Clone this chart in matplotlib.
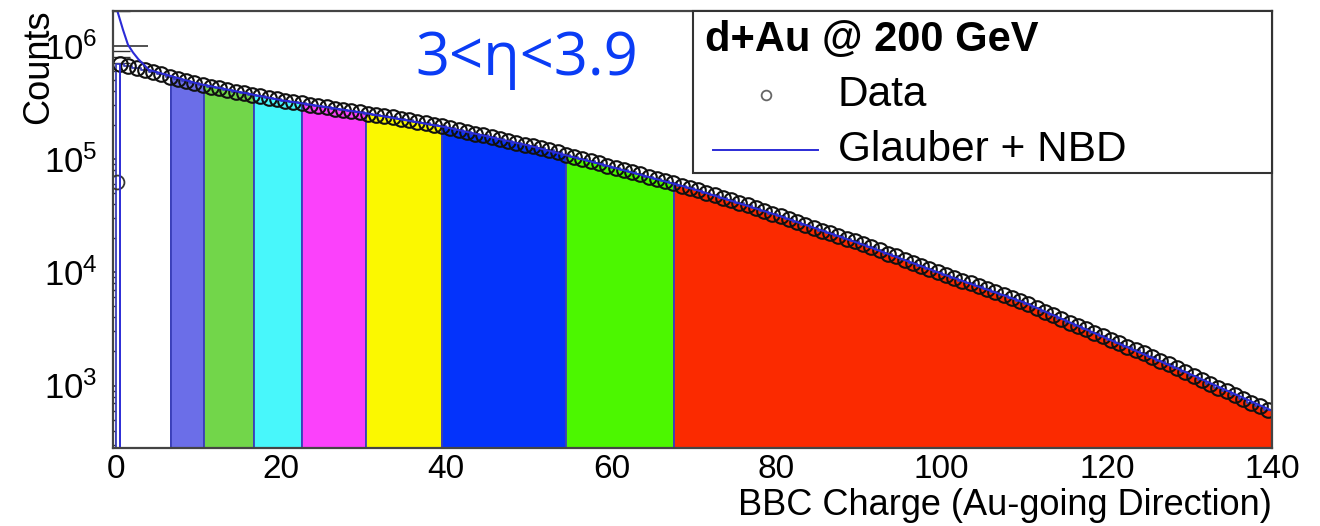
import numpy as np
import matplotlib.pyplot as plt
from matplotlib.patches import Rectangle
from matplotlib.lines import Line2D
from matplotlib.ticker import FixedLocator, NullFormatter

# ------------------------------------------------------------
# Style
# ------------------------------------------------------------

plt.rcParams.update({
    "font.family": ["Liberation Sans", "DejaVu Sans"],
    "mathtext.default": "regular",
})

# ------------------------------------------------------------
# Data
# ------------------------------------------------------------

# BBC charge histogram, 1 unit wide bins starting at 0
BIN_WIDTH = 1.0
COUNTS = [
    692000, 662000, 634000, 607000, 581000, 557000, 533000, 511000, 489000, 468000,
    449000, 434000, 419000, 405000, 391000, 379000, 368000, 357000, 346000, 336000,
    327000, 318000, 309000, 301000, 292000, 285000, 278000, 271000, 264000, 257000,
    251000, 245000, 238000, 233000, 227000, 220000, 213000, 207000, 200000, 194000,
    187000, 180000, 174000, 167000, 161000, 156000, 150000, 144500, 139000, 134000,
    129000, 124000, 119000, 114000, 109000, 104700, 100000, 95500, 91200, 87100,
    83300, 79700, 76300, 73000, 69900, 66800, 63800, 61000, 58200, 55600,
    53000, 50400, 47900, 45500, 43300, 41000, 38800, 36700, 34800, 32900,
    31100, 29300, 27700, 26200, 24700, 23300, 22100, 20900, 19800, 18700,
    17600, 16600, 15600, 14600, 13800, 12900, 12100, 11400, 10700, 10100,
    9480, 8950, 8450, 7980, 7530, 7100, 6680, 6300, 5940, 5600,
    5230, 4850, 4490, 4170, 3860, 3590, 3350, 3130, 2920, 2720,
    2540, 2370, 2210, 2070, 1930, 1790, 1660, 1540, 1430, 1320,
    1220, 1130, 1040, 960, 886, 820, 762, 708, 658, 611,
]

# lone point at zero charge
ZERO_X = 0.1
ZERO_COUNT = 6.2e4

# Glauber + NBD curve
GLAUBER_X = [0.1, 0.85, 1.45, 2.06, 2.7, 4.0, 10, 20, 30, 40, 50,
             60, 70, 80, 90, 100, 110, 120, 130, 140]
GLAUBER_Y = [2.1e6, 1.38e6, 1.02e6, 8.7e5, 7.6e5, 6.1e5, 4.6e5, 3.3e5,
             2.55e5, 1.9e5, 1.31e5, 8.5e4, 5.4e4, 3.2e4, 1.8e4, 9.7e3,
             5.4e3, 2.6e3, 1.27e3, 6.0e2]
GLAUBER_EDGE_X = 0.5
GLAUBER_EDGE_Y = 6.9e5

# centrality classes
BAND_EDGES = [0, 6.66, 10.65, 16.7, 22.5, 30.3, 39.5, 54.5, 67.6, 140]
BAND_COLORS = ["white", "#6b6ee8", "#72d64a", "#48f7fb", "#fb41fb",
               "#fbf800", "#0433fb", "#4cf700", "#fb2a00"]

XTICKS = [0, 20, 40, 60, 80, 100, 120, 140]
YTICKS = [1e3, 1e4, 1e5, 1e6]

YMIN, YMAX = 281, 2.02e6
XMIN, XMAX = -0.36, 140

# ------------------------------------------------------------
# Figure
# ------------------------------------------------------------

fig = plt.figure(figsize=(13.2, 5.26), dpi=100)
ax = fig.add_axes([0.0856, 0.1483, 0.878, 0.8308])

counts = np.array(COUNTS, dtype=float)
centers = (np.arange(len(counts)) + 0.5) * BIN_WIDTH


def bin_value(x):
    k = int(np.clip(np.floor(x / BIN_WIDTH), 0, len(counts) - 1))
    return counts[k]


# coloured bands under the histogram
for lo, hi, col in zip(BAND_EDGES[:-1], BAND_EDGES[1:], BAND_COLORS):
    inner = [e * BIN_WIDTH for e in range(len(counts) + 1)
             if lo < e * BIN_WIDTH < hi]
    xs = [lo] + inner + [hi]
    ys = [bin_value(x) for x in xs[:-1]]
    ys.append(ys[-1])
    ax.fill_between(xs, ys, YMIN, step="post", facecolor=col,
                    edgecolor="#3a3fb8", linewidth=1.3, zorder=1)

# data points
ax.plot(centers, counts, linestyle="none", marker="o", markersize=10.5,
        markerfacecolor="none", markeredgecolor="#111111",
        markeredgewidth=1.5, zorder=3)
ax.plot([ZERO_X], [ZERO_COUNT], linestyle="none", marker="o",
        markersize=10, markerfacecolor="none", markeredgecolor="#333333",
        markeredgewidth=1.3, zorder=3)

# model
ax.plot(GLAUBER_X, GLAUBER_Y, color="#2b2bd6", linewidth=1.5, zorder=4)
ax.vlines(GLAUBER_EDGE_X, YMIN, GLAUBER_EDGE_Y, color="#2b2bd6",
          linewidth=1.4, zorder=4)

# ------------------------------------------------------------
# Axes
# ------------------------------------------------------------

ax.set_yscale("log")
ax.set_xlim(XMIN, XMAX)
ax.set_ylim(YMIN, YMAX)
ax.set_axisbelow(True)

ax.set_xticks(XTICKS)
ax.set_xticklabels([str(t) for t in XTICKS])
ax.set_yticks(YTICKS)
ax.set_yticklabels([f"$10^{{{int(np.log10(t))}}}$" for t in YTICKS])

minor = [m * 10 ** d for d in range(2, 7) for m in range(2, 10)]
ax.yaxis.set_minor_locator(FixedLocator(minor))
ax.yaxis.set_minor_formatter(NullFormatter())

ax.tick_params(axis="y", which="major", direction="in", length=25,
               width=1.2, color="#333333", labelsize=25, pad=11)
ax.tick_params(axis="y", which="minor", direction="in", length=12,
               width=1.0, color="#333333")
ax.tick_params(axis="x", which="major", direction="in", length=12,
               width=1.2, color="#333333", labelsize=24, pad=4)

for sp in ax.spines.values():
    sp.set_color("#444444")
    sp.set_linewidth(1.6)
    sp.set_zorder(5)

fig.text(0.9636, 0.021, "BBC Charge (Au-going Direction)", ha="right",
         va="baseline", fontsize=26)
fig.text(0.0295, 0.981, "Counts", rotation=90, ha="center", va="top",
         fontsize=26)

# eta range
ax.text(0.2606, 0.888, "3<η<3.9", transform=ax.transAxes, ha="left",
        va="center", fontsize=43, color="#0a3cf5",
        family=["Open Sans", "DejaVu Sans"], zorder=6)

# ------------------------------------------------------------
# Legend box
# ------------------------------------------------------------

ax.add_patch(Rectangle((0.5004, 0.629), 0.4996, 0.371,
                       transform=ax.transAxes, facecolor="white",
                       edgecolor="#333333", linewidth=1.5, zorder=6,
                       clip_on=False))
ax.text(0.5108, 0.9336, "d+Au @ 200 GeV", transform=ax.transAxes,
        ha="left", va="center", fontsize=30, fontweight="bold", zorder=7)
ax.plot([0.5634], [0.8078], transform=ax.transAxes, marker="o",
        markersize=7, markerfacecolor="none", markeredgecolor="#666666",
        markeredgewidth=1.3, linestyle="none", zorder=7, clip_on=False)
ax.text(0.6255, 0.8078, "Data", transform=ax.transAxes, ha="left",
        va="center", fontsize=30.5, zorder=7)
ax.add_line(Line2D([0.5177, 0.6083], [0.6819, 0.6819],
                   transform=ax.transAxes, color="#2b2bd6", linewidth=1.4,
                   zorder=7))
ax.text(0.6255, 0.6819, "Glauber + NBD", transform=ax.transAxes,
        ha="left", va="center", fontsize=30.5, zorder=7)

fig.savefig("out.png", dpi=100)
